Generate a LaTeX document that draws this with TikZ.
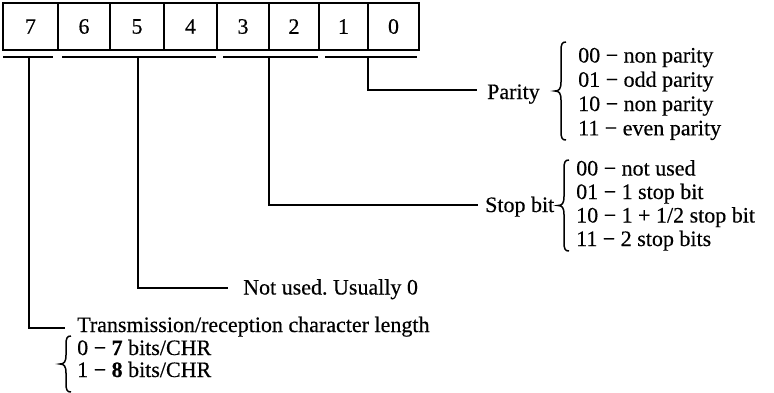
\documentclass[tikz,border=0pt]{standalone}
\usepackage{fontspec}
\setmainfont{Liberation Serif}[FakeBold=0.4]
\frenchspacing
% left curly brace drawn as a path: #1 = x of the stem, #2 = top y, #3 = bottom y
\newcommand{\drawlbrace}[3]{%
  \pgfmathsetmacro{\bm}{(#2+#3)/2}%
  \draw[brc] (#1+5,#2) .. controls (#1+1,#2) and (#1,#2+2) .. (#1,#2+9)
    -- (#1,\bm-9) .. controls (#1,\bm-2) and (#1-2,\bm) .. (#1-6,\bm)
    .. controls (#1-2,\bm) and (#1,\bm+2) .. (#1,\bm+9)
    -- (#1,#3-9) .. controls (#1,#3-2) and (#1+1,#3) .. (#1+5,#3);}
\begin{document}
\begin{tikzpicture}[x=1pt,y=-1pt, font=\fontsize{22}{24}\selectfont,
  cell/.style={draw, line width=1.3pt, minimum height=47pt, inner sep=0pt, anchor=center},
  lbl/.style={anchor=base west, inner sep=0pt},
  conn/.style={line width=1.3pt},
  bar/.style={line width=2pt},
  brc/.style={line width=1.5pt}]
\useasboundingbox (0,0) rectangle (774,392);
% register cells
\node[cell, minimum width=55pt] (c7) at (30.5,26.5) {7};
\node[cell, minimum width=52pt] (c6) at (84,26.5) {6};
\node[cell, minimum width=54pt] (c5) at (137,26.5) {5};
\node[cell, minimum width=53pt] (c4) at (190.5,26.5) {4};
\node[cell, minimum width=52pt] (c3) at (243,26.5) {3};
\node[cell, minimum width=50pt] (c2) at (294,26.5) {2};
\node[cell, minimum width=49pt] (c1) at (343.5,26.5) {1};
\node[cell, minimum width=51pt] (c0) at (393.5,26.5) {0};
% group bars
\draw[bar] (3,57) -- (53,57);
\draw[bar] (62,57) -- (216,57);
\draw[bar] (223,57) -- (318,57);
\draw[bar] (325,57) -- (417,57);
% taps and connector ends
\coordinate (t7) at (29,57);
\coordinate (t654) at (138,57);
\coordinate (t32) at (269,57);
\coordinate (t10) at (368,57);
\coordinate (e10) at (477,90);
\coordinate (e32) at (478,205);
\coordinate (e654) at (228,288);
\coordinate (e7) at (65,328);
\draw[conn] (t10) |- (e10);
\draw[conn] (t32) |- (e32);
\draw[conn] (t654) |- (e654);
\draw[conn] (t7) |- (e7);
% labels
\node[lbl] (parity) at (487,99) {Parity};
\node[lbl] (stop) at (485,212) {Stop bit};
\node[lbl] (notused) at (243,294.5) {Not used. Usually 0};
\node[lbl] (trans) at (77,332) {Transmission/reception character length};
% parity options
\drawlbrace{561}{42}{140}
\node[lbl] (p00) at (578,62.5) {00 − non parity};
\node[lbl] (p01) at (578,86.8) {01 − odd parity};
\node[lbl] (p10) at (578,111) {10 − non parity};
\node[lbl] (p11) at (578,135.3) {11 − even parity};
% stop bit options
\drawlbrace{564}{160}{251}
\node[lbl] (s00) at (576,175.5) {00 − not used};
\node[lbl] (s01) at (576,199) {01 − 1 stop bit};
\node[lbl] (s10) at (576,222.5) {10 − 1 + 1/2 stop bit};
\node[lbl] (s11) at (576,246) {11 − 2 stop bits};
% character length options
\begin{scope}
\clip (0,0) rectangle (774,392);
\drawlbrace{66}{336}{392}
\end{scope}
\node[lbl] (l0) at (77,355) {0 − \textbf{7} bits/CHR};
\node[lbl] (l1) at (77,377) {1 − \textbf{8} bits/CHR};
\end{tikzpicture}
\end{document}
